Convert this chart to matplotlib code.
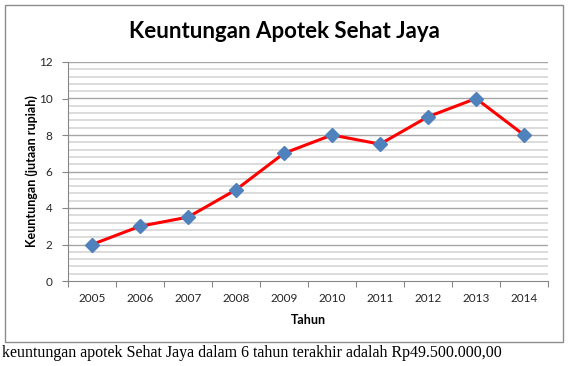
import numpy as np
import matplotlib
matplotlib.use("Agg")
import matplotlib.pyplot as plt
from matplotlib.patches import Rectangle

years = ["2005", "2006", "2007", "2008", "2009", "2010", "2011", "2012", "2013", "2014"]
profit = [2, 3, 3.5, 5, 7, 8, 7.5, 9, 10, 8]
caption = "keuntungan apotek Sehat Jaya dalam 6 tahun terakhir adalah Rp49.500.000,00"

plt.rcParams["font.family"] = ["Lato", "DejaVu Sans"]

fig = plt.figure(figsize=(5.68, 3.66), dpi=100)
fig.patch.set_facecolor("white")

# chart frame
fig.patches.append(Rectangle((5 / 568, 1 - 342 / 366), 558 / 568, 337 / 366,
                             transform=fig.transFigure, fill=False,
                             edgecolor="#8c8c8c", linewidth=1.0))

ax = fig.add_axes([68 / 568, 1 - 281 / 366, 480 / 568, 219 / 366])
x = np.arange(len(years))

# gridlines: minor every 0.4, major every 2
for v in np.arange(0.4, 12.01, 0.4):
    if abs(v / 2 - round(v / 2)) < 1e-6:
        ax.axhline(v, color="#a6a6a6", linewidth=1.0, zorder=1)
    else:
        ax.axhline(v, color="#d6d6d6", linewidth=1.2, zorder=1)

ax.plot(x, profit, color="#ff0000", linewidth=2.2, zorder=3)
ax.plot(x, profit, linestyle="none", marker="D", markersize=7.5,
        color="#4f81bd", markeredgecolor="#4f81bd", zorder=4)

ax.set_xlim(-0.5, len(years) - 0.5)
ax.set_ylim(0, 12)
ax.set_yticks(np.arange(0, 13, 2))
ax.set_yticklabels([str(v) for v in range(0, 13, 2)])
ax.set_xticks(np.arange(-0.5, len(years), 1))
ax.set_xticklabels([])
ax.set_xticks(x, minor=True)
ax.set_xticklabels(years, minor=True)
ax.tick_params(axis="x", which="major", length=4, color="#868686")
ax.tick_params(axis="x", which="minor", length=0, pad=9, labelsize=8.5, labelcolor="#262626")
ax.tick_params(axis="y", length=4, color="#868686", labelsize=8.5, labelcolor="#262626", pad=7)

for s in ["top", "right"]:
    ax.spines[s].set_visible(False)
ax.spines["left"].set_color("#868686")
ax.spines["bottom"].set_color("#868686")

ax.set_ylabel("Keuntungan (jutaan rupiah)", fontsize=9, fontweight="bold", labelpad=0.5)
ax.set_xlabel("Tahun", fontsize=9, fontweight="bold", labelpad=6.5)

fig.text(284 / 568, 1 - 31 / 366, "Keuntungan Apotek Sehat Jaya", ha="center", va="center",
         fontsize=16, fontweight="bold", color="black")

fig.text(2 / 568, 1 - 353 / 366, caption, ha="left", va="center",
         fontsize=11.5, family=["Liberation Serif", "DejaVu Serif"], color="black")

fig.savefig("out.png", dpi=100, facecolor="white")
